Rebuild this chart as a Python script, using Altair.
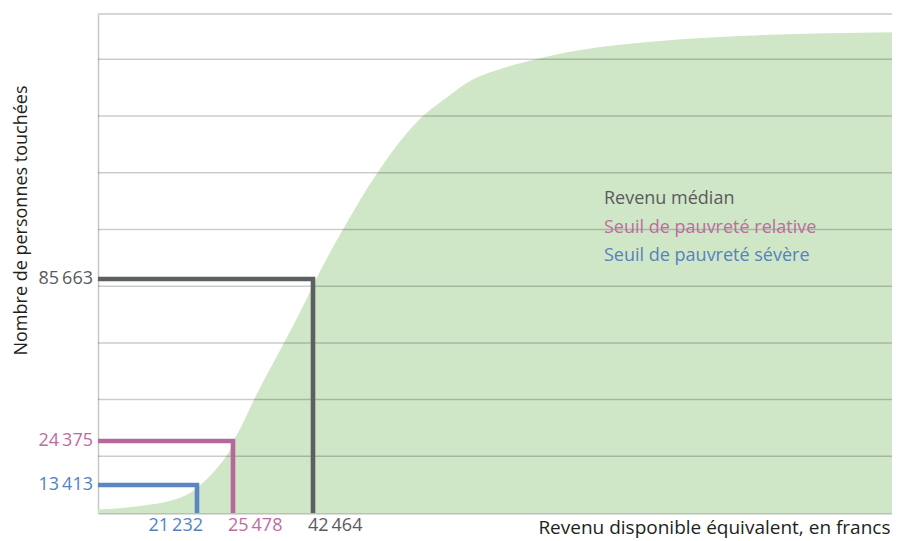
import altair as alt
import pandas as pd

# ---------------- data ----------------
series = ["Revenu médian", "Seuil de pauvreté relative", "Seuil de pauvreté sévère"]
income_thresholds = [42464, 25478, 21232]      # francs
persons_touched = [85663, 24375, 13413]        # persons

# cumulative curve
curve_income = [0, 9000, 16100, 19700, 21600, 23700, 25200, 25700, 27200, 29900,
                 35500, 41000, 43300, 48600, 55500, 64800, 68900, 73700, 81800,
                 87900, 96700, 112900, 133200, 160000]
curve_persons = [1700, 3400, 6200, 9600, 13400, 17900, 22600, 24700, 29700, 39900,
                 58800, 77700, 86400, 104600, 125800, 147400, 153400, 159900, 165900,
                 169000, 172400, 175800, 178000, 179100]

grid_levels = [1, 2, 3, 4, 5, 6, 7, 8]
X_MAX = 160000
Y_MAX = 186000

# ---------------- styling ----------------
W, H = 794, 499
FONT = "Open Sans"
FS = 18
line_colors = ["#5c6062", "#b6679b", "#5a87c1"]
text_colors = ["#5a5b5d", "#bf6ba2", "#5483be"]


def fmt(v):
    return f"{v:,}".replace(",", "\u2009")


curve_df = pd.DataFrame({"income": curve_income, "persons": curve_persons})

rows = []
for s, xv, yv in zip(series, income_thresholds, persons_touched):
    rows.append({"series": s, "step": 0, "income": 0, "persons": yv})
    rows.append({"series": s, "step": 1, "income": xv, "persons": yv})
    rows.append({"series": s, "step": 2, "income": xv, "persons": 0})
lines_df = pd.DataFrame(rows)

marks_df = pd.DataFrame({
    "series": series,
    "income": income_thresholds,
    "persons": persons_touched,
    "xlabel": [fmt(v) for v in income_thresholds],
    "ylabel": [fmt(v) for v in persons_touched],
})
legend_df = pd.DataFrame({"series": series})
grid_df = pd.DataFrame({"level": grid_levels})

x_dom = [0] + sorted(income_thresholds) + [X_MAX]
y_dom = [0] + sorted(persons_touched) + [Y_MAX]
xscale = alt.Scale(domain=x_dom, range=[0, 99, 135, 215, W], nice=False, zero=False)
yscale = alt.Scale(domain=y_dom, range=[H, 471, 427, 265, 0], nice=False, zero=False)
stroke_scale = alt.Scale(domain=series, range=line_colors)
fill_scale = alt.Scale(domain=series, range=text_colors)

x_axis = alt.Axis(
    title="Revenu disponible équivalent, en francs", labels=False, ticks=False,
    grid=False, domain=True, domainColor="#bdbdbd", domainWidth=2,
    titleFont=FONT, titleFontSize=19, titleFontWeight="normal", titleColor="#231f20",
    titleAnchor="end", titleAlign="right", titleX=W - 2, titleY=14, titleBaseline="middle",
)
y_axis = alt.Axis(
    title="Nombre de personnes touchées", labels=False, ticks=False, grid=False,
    domain=True, domainColor="#c8c8c8", domainWidth=1.5,
    titleFont=FONT, titleFontSize=FS, titleFontWeight="normal", titleColor="#231f20",
    titleAngle=270, titleX=-77, titleY=206, titleAlign="center", titleBaseline="middle",
)

X = alt.X("income:Q", scale=xscale, axis=x_axis)

area = alt.Chart(curve_df).mark_area(color="#cfe7c7", interpolate="monotone").encode(
    x=X,
    y=alt.Y("persons:Q", scale=yscale, axis=y_axis),
)

grid = alt.Chart(grid_df).mark_rule(color="#000000", strokeOpacity=0.2, strokeWidth=1.5).encode(
    y=alt.Y("level:Q", scale=alt.Scale(domain=[0, 8.8], nice=False, zero=False), axis=None),
)

frame = alt.Chart(pd.DataFrame({"frame": ["top"]})).mark_rule(
    color="#d6d6d6", strokeWidth=2
).encode(y=alt.value(0))

lines = alt.Chart(lines_df).mark_line(strokeWidth=4.6, strokeJoin="miter", strokeCap="butt").encode(
    x=X,
    y=alt.Y("persons:Q", scale=yscale, axis=None),
    stroke=alt.Stroke("series:N", scale=stroke_scale, legend=None),
    order=alt.Order("step:Q"),
)

ylabels = alt.Chart(marks_df).transform_calculate(origin="0").mark_text(
    align="right", baseline="middle", dx=-5, font=FONT, fontSize=FS
).encode(
    x=alt.X("origin:Q", scale=xscale, axis=x_axis),
    y=alt.Y("persons:Q", scale=yscale, axis=None),
    text="ylabel:N",
    fill=alt.Fill("series:N", scale=fill_scale, legend=None),
)

xlabel_left = alt.Chart(marks_df).transform_calculate(origin="0").transform_filter(
    alt.datum.series == "Seuil de pauvreté sévère"
).mark_text(align="right", baseline="middle", dx=6, dy=13, font=FONT, fontSize=FS).encode(
    x=X,
    y=alt.Y("origin:Q", scale=yscale, axis=None),
    text="xlabel:N",
    fill=alt.Fill("series:N", scale=fill_scale, legend=None),
)

xlabel_right = alt.Chart(marks_df).transform_calculate(origin="0").transform_filter(
    alt.datum.series != "Seuil de pauvreté sévère"
).mark_text(align="left", baseline="middle", dx=-5, dy=13, font=FONT, fontSize=FS).encode(
    x=X,
    y=alt.Y("origin:Q", scale=yscale, axis=None),
    text="xlabel:N",
    fill=alt.Fill("series:N", scale=fill_scale, legend=None),
)

fg = alt.layer(lines, ylabels, xlabel_left, xlabel_right)

legend = alt.Chart(legend_df).mark_text(
    align="left", baseline="middle", font=FONT, fontSize=FS
).encode(
    x=alt.value(506),
    y=alt.Y("series:N", scale=alt.Scale(type="point", domain=series, range=[185, 242], padding=0), axis=None),
    text="series:N",
    fill=alt.Fill("series:N", scale=fill_scale, legend=None),
)

chart = alt.layer(area, grid, frame, fg, legend).resolve_scale(y="independent").properties(
    width=W, height=H,
    autosize=alt.AutoSizeParams(type="none"),
    padding={"left": 90, "top": 6, "right": 0, "bottom": 28},
).configure_view(stroke="transparent").configure(font=FONT, background="white")

chart.save("out.html", embed_options={"renderer": "svg", "actions": False})
